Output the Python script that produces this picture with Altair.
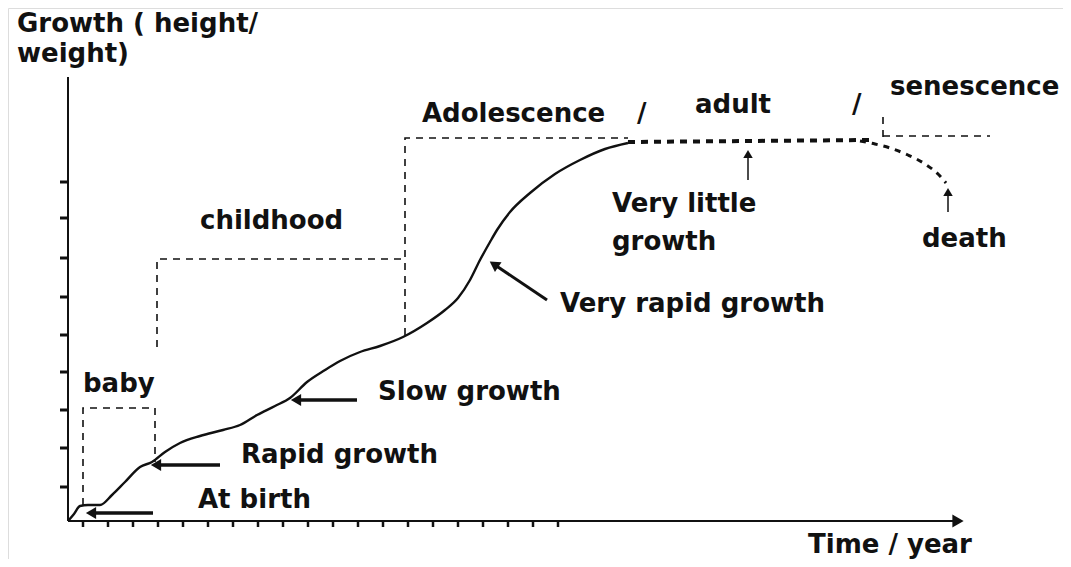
import math
import altair as alt
import pandas as pd

# ---- data (x: time units, y: growth units; origin at the axes' corner) ----
curve_x = [0, 6, 12, 20, 32, 44, 57, 72, 84, 97, 112, 132, 155, 172, 189, 207, 222, 239, 257, 272,
           292, 312, 335, 359, 377, 390, 402, 412, 422, 429, 442, 462, 487, 512, 537, 560]
curve_y = [0, 7, 15, 16, 16, 26, 39, 54, 59, 69, 78, 85, 91, 96, 106, 115, 123, 139, 151, 160,
           169, 175, 184, 198, 211, 223, 241, 261, 279, 291, 309, 328, 347, 361, 372, 378]

plateau_x = [560, 680, 802]
plateau_y = [379, 380, 381]

death_x = [792, 807, 822, 840, 857, 872, 878]
death_y = [380, 377, 373, 366, 357, 345, 338]

# dashed stage boxes: segment id, x, y
guide_seg = ["baby", "baby", "baby", "baby",
             "child", "child", "child",
             "adol", "adol", "adol",
             "sen1", "sen1", "sen2", "sen2"]
guide_x = [15, 15, 87, 87,
           89, 89, 337,
           337, 337, 560,
           815, 815, 815, 922]
guide_y = [16, 113, 113, 59,
           174, 262, 262,
           186, 383, 383,
           404, 380, 385, 385]

# annotation arrows
arrow_name = ["At birth", "Rapid", "Slow", "Very rapid", "Very little", "death"]
arrow_tail_x = [85, 152, 289, 479, 680, 880]
arrow_tail_y = [8, 56, 121, 221, 341, 309]
arrow_tip_x = [17, 82, 222, 421, 680, 880]
arrow_tip_y = [8, 56, 121, 260, 373, 335]
arrow_width = [3.5, 3.5, 3.5, 3, 1.5, 1.5]

ytick_vals = [339, 303, 263, 224, 186, 149, 111, 73, 34]
xtick_vals = [15, 40, 65, 90, 115, 140, 165, 190, 215, 240, 265, 290, 315, 340, 365,
              390, 415, 440, 465, 490]

label_text = ["Growth ( height/", "weight)", "baby", "childhood", "Adolescence", "/",
              "adult", "/", "senescence", "Very little", "growth", "death",
              "Very rapid growth", "Slow growth", "Rapid growth", "At birth", "Time / year"]
label_x = [-51, -51, 15, 132, 354, 569, 627, 784, 822, 544, 544, 854, 492, 310, 173, 130, 740]
label_y = [489, 459, 129, 292, 399, 399, 408, 408, 426, 309, 271, 274, 209, 121, 58, 13, -32]

# ---- scales ----
XS = alt.Scale(domain=[-60, 995], nice=False, zero=False)
YS = alt.Scale(domain=[-38, 513], nice=False, zero=False)
INK = "#111111"


def X(f):
    return alt.X(f, type="quantitative", scale=XS, axis=None)


def Y(f):
    return alt.Y(f, type="quantitative", scale=YS, axis=None)


curve_df = pd.DataFrame({"x": curve_x, "y": curve_y, "i": range(len(curve_x))})
plateau_df = pd.DataFrame({"x": plateau_x, "y": plateau_y, "i": range(len(plateau_x))})
death_df = pd.DataFrame({"x": death_x, "y": death_y, "i": range(len(death_x))})
guide_df = pd.DataFrame({"seg": guide_seg, "x": guide_x, "y": guide_y, "i": range(len(guide_x))})

arr = pd.DataFrame({"name": arrow_name, "tx": arrow_tail_x, "ty": arrow_tail_y,
                    "px": arrow_tip_x, "py": arrow_tip_y, "w": arrow_width})
L = ((arr.px - arr.tx) ** 2 + (arr.py - arr.ty) ** 2) ** 0.5
arr["ux"] = (arr.px - arr.tx) / L
arr["uy"] = (arr.py - arr.ty) / L
arr["hx"] = arr.px - 6 * arr.ux
arr["hy"] = arr.py - 6 * arr.uy
arr["bx"] = arr.px - 9 * arr.ux
arr["by"] = arr.py - 9 * arr.uy
arr["ang"] = [(math.degrees(math.atan2(a, b)) + 360) % 360 for a, b in zip(arr.ux, arr.uy)]
arr["size"] = [140 if w > 2 else 90 for w in arr.w]

axis_df = pd.DataFrame({"x": [0, 0], "x2": [0, 887], "y": [0, 0], "y2": [444, 0]})
xhead_df = pd.DataFrame({"x": [890], "y": [0]})
ytick_df = pd.DataFrame({"y": ytick_vals, "x": [-8] * len(ytick_vals), "x2": [0] * len(ytick_vals)})
xtick_df = pd.DataFrame({"x": xtick_vals, "y": [0] * len(xtick_vals), "y2": [-6] * len(xtick_vals)})
label_df = pd.DataFrame({"t": label_text, "x": label_x, "y": label_y})

axes = alt.Chart(axis_df).mark_rule(color=INK, strokeWidth=2).encode(
    x=X("x"), x2="x2", y=Y("y"), y2="y2")
xhead = alt.Chart(xhead_df).mark_point(shape="triangle-right", filled=True, size=170,
                                       color=INK, opacity=1).encode(x=X("x"), y=Y("y"))
yticks = alt.Chart(ytick_df).mark_rule(color=INK, strokeWidth=3).encode(
    x=X("x"), x2="x2", y=Y("y"))
xticks = alt.Chart(xtick_df).mark_rule(color=INK, strokeWidth=2.5).encode(
    x=X("x"), y=Y("y"), y2="y2")

guides = alt.Chart(guide_df).mark_line(color=INK, strokeWidth=1.6, strokeDash=[7, 6]).encode(
    x=X("x"), y=Y("y"), detail="seg:N", order="i:Q")

curve = alt.Chart(curve_df).mark_line(color=INK, strokeWidth=2.4, interpolate="monotone").encode(
    x=X("x"), y=Y("y"), order="i:Q")
plateau = alt.Chart(plateau_df).mark_line(color=INK, strokeWidth=4, strokeDash=[7, 6]).encode(
    x=X("x"), y=Y("y"), order="i:Q")
death = alt.Chart(death_df).mark_line(color=INK, strokeWidth=3, strokeDash=[6, 6],
                                      interpolate="monotone").encode(
    x=X("x"), y=Y("y"), order="i:Q")

shafts = alt.Chart(arr).mark_rule(color=INK).encode(
    x=X("tx"), x2="bx", y=Y("ty"), y2="by",
    strokeWidth=alt.StrokeWidth("w:Q", scale=None))
heads = alt.Chart(arr).mark_point(shape="triangle-up", filled=True, color=INK, opacity=1).encode(
    x=X("hx"), y=Y("hy"),
    angle=alt.Angle("ang:Q", scale=None),
    size=alt.Size("size:Q", scale=None))

labels = alt.Chart(label_df).mark_text(
    font="DejaVu Sans", fontWeight="bold", fontSize=26, color=INK,
    align="left", baseline="alphabetic").encode(x=X("x"), y=Y("y"), text="t:N")

chart = alt.layer(guides, axes, xhead, yticks, xticks, curve, plateau, death,
                  shafts, heads, labels).properties(
    width=1055, height=551, padding=0,
    autosize=alt.AutoSizeParams(type="none"),
).configure_view(stroke="transparent", strokeWidth=0).configure(background="white")

chart.save("out.html", embed_options={"renderer": "svg", "actions": False})
